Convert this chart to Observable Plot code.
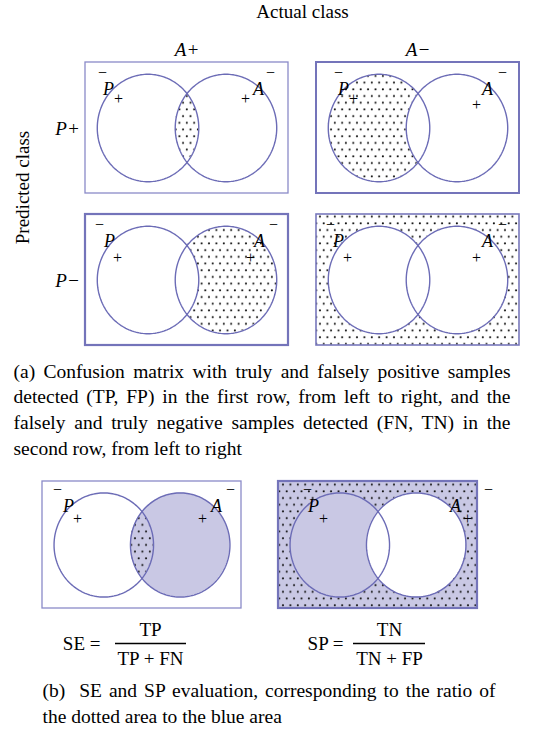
<!DOCTYPE html>
<html><head><meta charset="utf-8">
<script src="https://cdn.jsdelivr.net/npm/d3@7"></script>
<script src="https://cdn.jsdelivr.net/npm/@observablehq/plot@0.6"></script>
<style>body{margin:0;background:#fff;}</style>
</head><body><div id="chart"></div>
<script>
// ---------- data ----------
const actualClasses = ["A+", "A−"];
const predictedClasses = ["P+", "P−"];
const axisTitles = ["Actual class", "Predicted class"];
const outcomes = ["TP", "FP", "FN", "TN"];              // row-major cells
const outcomeDotted = ["P and A", "P only", "A only", "neither"];
const measures = ["SE", "SP"];
const numerators = ["TP", "TN"];
const denominators = ["TP + FN", "TN + FP"];
const measureBlue = ["A", "not A"];
const measureDotted = ["P and A", "neither"];
const captionA = [
  "(a) Confusion matrix with truly and falsely positive samples",
  "detected (TP, FP) in the first row, from left to right, and the",
  "falsely and truly negative samples detected (FN, TN) in the",
  "second row, from left to right"
];
const captionB = [
  "(b)  SE and SP evaluation, corresponding to the ratio of",
  "the dotted area to the blue area"
];

// ---------- layout ----------
const W = 547, H = 731;
const STROKE = "#6c6cb6", LAV = "#c9c8e4", DOTS = "url(#dots)";
const FONT = "'Liberation Serif', 'Times New Roman', serif";
const grid = {x0: [85, 316], y0: [62, 214], w: 203, h: 131};
const bot = {x0: [42, 278], y0: 481, w: 199, h: 127};
const boxStyle = [[1.3, "#8a8ac8"], [2, "#7474ba"], [2.2, "#7474ba"], [1.6, "#7878bc"], [1.3, "#8a8ac8"], [2.2, "#7474ba"]];
// label offsets: [bar P, P, +P, +A, A, bar A]
const labelOff = [
  [[17,10],[23,27],[33,36],[160,36],[173,27],[185,10]],
  [[22,10],[27,27],[37,36],[160,42],[171,27],[186,10]],
  [[14,10],[24,27],[32,43],[165,43],[174,27],[188,10]],
  [[14,10],[22,27],[31,43],[160,43],[171,27],[186,10]],
  [[15,8],[26,25],[35,37],[160,37],[174,25],[188,8]],
  [[29,8],[35,25],[45,37],[189,37],[177,25],[210,8]]
];
const labelText = ["−", "P", "+", "+", "A", "−"];

const panels = [];
outcomes.forEach((o, i) => {
  const r = Math.floor(i / 2), c = i % 2;
  panels.push({id: o, x0: grid.x0[c], y0: grid.y0[r], w: grid.w, h: grid.h,
    layers: o === "TN" ? [["neither", DOTS], ["P", "white"], ["A", "white"]] : [[outcomeDotted[i], DOTS]]});
});
measures.forEach((m, i) => {
  panels.push({id: m, x0: bot.x0[i], y0: bot.y0, w: bot.w, h: bot.h,
    layers: measureBlue[i] === "A"
      ? [["A", LAV], [measureDotted[i], DOTS]]
      : [["neither", LAV], ["neither", DOTS], ["P", LAV], ["A", "white"]]});
});

function geom(p) {
  return {cxP: p.x0 + 0.308 * p.w, cxA: p.x0 + 0.692 * p.w, cy: p.y0 + 0.5 * p.h, rx: 0.25 * p.w, ry: 0.41 * p.h};
}
function regionRows(p, region) {
  const g = geom(p), rows = [], N = 400;
  for (let k = 0; k <= N; k++) {
    const y = g.cy - g.ry + (2 * g.ry * k) / N;
    const t = (y - g.cy) / g.ry;
    const hw = g.rx * Math.sqrt(Math.max(0, 1 - t * t));
    let x1, x2;
    if (region === "P") { x1 = g.cxP - hw; x2 = g.cxP + hw; }
    else if (region === "A") { x1 = g.cxA - hw; x2 = g.cxA + hw; }
    else if (region === "P and A") { x1 = g.cxA - hw; x2 = g.cxP + hw; if (x2 < x1) x2 = x1 = (g.cxP + g.cxA) / 2; }
    else if (region === "P only") { x1 = g.cxP - hw; x2 = Math.min(g.cxP + hw, g.cxA - hw); }
    else if (region === "A only") { x1 = Math.max(g.cxP + hw, g.cxA - hw); x2 = g.cxA + hw; }
    rows.push({y, x1, x2});
  }
  return rows;
}
function ellipseRows(p) {
  const g = geom(p), rows = [];
  for (const [name, cx] of [["P", g.cxP], ["A", g.cxA]]) {
    for (let k = 0; k <= 180; k++) {
      const a = (2 * Math.PI * k) / 180;
      rows.push({id: p.id + name, x: cx + g.rx * Math.cos(a), y: g.cy + g.ry * Math.sin(a)});
    }
  }
  return rows;
}

const marks = [];
panels.forEach((p, pi) => {
  const box = [{x1: p.x0, x2: p.x0 + p.w, y1: p.y0, y2: p.y0 + p.h}];
  for (const [region, fill] of p.layers) {
    if (region === "neither") marks.push(Plot.rect(box, {x1: "x1", x2: "x2", y1: "y1", y2: "y2", fill}));
    else marks.push(Plot.areaX(regionRows(p, region), {y: "y", x1: "x1", x2: "x2", fill, curve: "linear"}));
  }
  marks.push(Plot.line(ellipseRows(p), {x: "x", y: "y", z: "id", stroke: STROKE, strokeWidth: 1.4, curve: "linear"}));
  marks.push(Plot.rect(box, {x1: "x1", x2: "x2", y1: "y1", y2: "y2", fill: "none", stroke: boxStyle[pi][1], strokeWidth: boxStyle[pi][0]}));
  const labs = labelOff[pi].map((o, k) => ({x: p.x0 + o[0], y: p.y0 + o[1], t: labelText[k]}));
  marks.push(Plot.text(labs.filter(d => d.t === "P" || d.t === "A"), {x: "x", y: "y", text: "t", fontSize: 18, fontStyle: "italic", fill: "black"}));
  marks.push(Plot.text(labs.filter(d => d.t !== "P" && d.t !== "A"), {x: "x", y: "y", text: "t", fontSize: 16, fill: "black"}));
});

// headers
const colCenters = grid.x0.map(x => x + grid.w / 2);
const rowCenters = grid.y0.map(y => y + 0.5 * grid.h + 1);
marks.push(Plot.text([axisTitles[0]], {x: () => (colCenters[0] + colCenters[1]) / 2, y: () => 11, text: d => d, fontSize: 19, fill: "black"}));
marks.push(Plot.text(actualClasses, {x: (d, i) => colCenters[i], y: () => 49, text: d => d, fontSize: 19, fontStyle: "italic", fill: "black"}));
marks.push(Plot.text(predictedClasses, {x: () => 67, y: (d, i) => rowCenters[i], text: d => d, fontSize: 19, fontStyle: "italic", fill: "black"}));
marks.push(Plot.text([axisTitles[1]], {x: () => 22, y: () => 187, text: d => d, rotate: -90, fontSize: 19, fill: "black"}));

// formulas
const fx = [{lab: 100, c: 150, b1: 115, b2: 186}, {lab: 343, c: 389, b1: 353, b2: 425}];
const fy = {bar: 643, num: 629, den: 658};
marks.push(Plot.text(measures, {x: (d, i) => fx[i].lab, y: () => fy.bar, text: d => d + " =", textAnchor: "end", fontSize: 19, fill: "black"}));
marks.push(Plot.text(numerators, {x: (d, i) => fx[i].c, y: () => fy.num, text: d => d, fontSize: 19, fill: "black"}));
marks.push(Plot.text(denominators, {x: (d, i) => fx[i].c, y: () => fy.den, text: d => d, fontSize: 19, fill: "black"}));
marks.push(Plot.ruleY(measures, {y: () => fy.bar, x1: (d, i) => fx[i].b1, x2: (d, i) => fx[i].b2, stroke: "black", strokeWidth: 1.4}));

// captions
marks.push(Plot.text(captionA, {x: () => 13, y: (d, i) => 371 + i * 25.6, text: d => d, textAnchor: "start", fontSize: 19.5, fill: "black"}));
marks.push(Plot.text(captionB, {x: () => 42, y: (d, i) => 690 + i * 26, text: d => d, textAnchor: "start", fontSize: 19.5, fill: "black"}));

const svg = Plot.plot({
  width: W, height: H, margin: 0,
  x: {domain: [0, W], range: [0, W], axis: null},
  y: {domain: [0, H], range: [0, H], axis: null},
  style: {fontFamily: FONT, background: "white", color: "black", overflow: "visible"},
  marks
});
document.getElementById("chart").appendChild(svg);

const defs = d3.select(svg).insert("defs", ":first-child");
const pat = defs.append("pattern").attr("id", "dots").attr("patternUnits", "userSpaceOnUse").attr("width", 7.4).attr("height", 13.4);
pat.append("circle").attr("cx", 1.8).attr("cy", 2.2).attr("r", 1.05).attr("fill", "#111");
pat.append("circle").attr("cx", 5.5).attr("cy", 8.9).attr("r", 1.05).attr("fill", "#111");

// justify caption lines (all but each paragraph's last)
const justify = [[captionA.slice(0, -1), 13, 510], [captionB.slice(0, -1), 42, 495]];
d3.select(svg).selectAll("text").each(function() {
  const s = this.textContent;
  for (const [lines, left, right] of justify) {
    if (lines.includes(s)) {
      const len = this.getComputedTextLength();
      const spaces = (s.match(/ /g) || []).length;
      this.style.wordSpacing = ((right - left - len) / spaces) + "px";
    }
  }
});
</script></body></html>
